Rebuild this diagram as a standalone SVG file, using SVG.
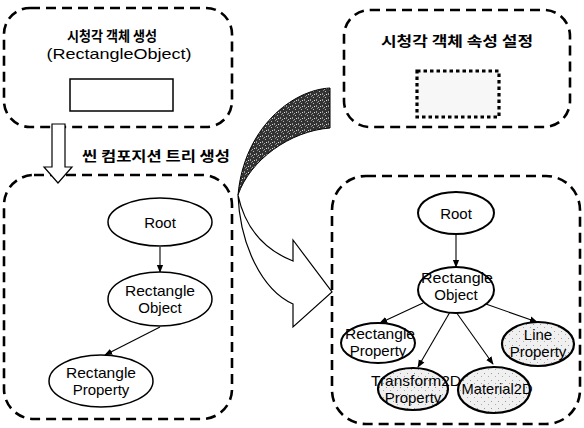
<svg xmlns="http://www.w3.org/2000/svg" width="584" height="428" viewBox="0 0 584 428">
<defs>
<style>
.box{fill:none;stroke:#000;stroke-width:2.6;stroke-dasharray:10 6}
.ko{font-family:"Noto Sans CJK KR","Noto Sans",sans-serif;font-weight:bold;font-size:14px;fill:#000}
.lbl{font-family:"Liberation Sans",Arial,sans-serif;font-size:15px;fill:#000;text-anchor:middle}
.nd{fill:#fff;stroke:#000;stroke-width:1.5}
.nd2{fill:#fff;stroke:#000;stroke-width:2}
.sp{fill:url(#speck);stroke:#000;stroke-width:2.2}
.edge{stroke:#000;stroke-width:1.1;fill:none;marker-end:url(#ah)}
</style>
<marker id="ah" viewBox="0 0 10 10" refX="9" refY="5" markerWidth="8" markerHeight="8" markerUnits="userSpaceOnUse" orient="auto">
<path d="M0,1 L10,5 L0,9 Z" fill="#000"/>
</marker>
<pattern id="speck" width="7" height="7" patternUnits="userSpaceOnUse">
<rect width="7" height="7" fill="#f0f0f0"/>
<rect x="1" y="2" width="1" height="1" fill="#999"/>
<rect x="5" y="5" width="1" height="1" fill="#aaa"/>
</pattern>
<pattern id="dark" width="6" height="6" patternUnits="userSpaceOnUse">
<rect width="6" height="6" fill="#333"/>
<rect x="1" y="1" width="1" height="1" fill="#bbb"/>
<rect x="4" y="3" width="1" height="2" fill="#999"/>
<rect x="2" y="4" width="1" height="1" fill="#ddd"/>
<rect x="5" y="0" width="1" height="1" fill="#888"/>
<rect x="0" y="5" width="1" height="1" fill="#aaa"/>
</pattern>
</defs>
<rect width="584" height="428" fill="#fff"/>

<g id="box-create">
<rect class="box" x="4" y="8" width="228" height="119" rx="26"/>
<text class="ko" x="112" y="41" text-anchor="middle" textLength="90" lengthAdjust="spacingAndGlyphs">시청각 객체 생성</text>
<text x="119" y="59" font-family="'Liberation Sans',Arial,sans-serif" font-size="15" text-anchor="middle" textLength="145" lengthAdjust="spacingAndGlyphs">(RectangleObject)</text>
<rect x="70" y="79" width="103" height="32" fill="#fff" stroke="#000" stroke-width="1.5"/>
</g>

<g id="box-attr">
<rect class="box" x="344" y="10" width="226" height="117" rx="26"/>
<text class="ko" x="457" y="46" text-anchor="middle" textLength="152" lengthAdjust="spacingAndGlyphs">시청각 객체 속성 설정</text>
<rect x="417" y="71" width="82" height="46" fill="#f7f7f7" stroke="#000" stroke-width="3.2" stroke-dasharray="3.5 3"/>
</g>

<g id="box-tree-left">
<rect class="box" x="4" y="175" width="228" height="244" rx="30"/>
</g>

<g id="box-tree-right">
<rect class="box" x="332" y="176" width="248" height="248" rx="34"/>
</g>

<g id="arrow-down">
<polygon points="52,124 65,124 65,167 72,167 58,183 44,167 52,167" fill="#fff" stroke="#000" stroke-width="1.2"/>
<text class="ko" x="82" y="161" font-size="15" textLength="148" lengthAdjust="spacingAndGlyphs">씬 컴포지션 트리 생성</text>
</g>

<g id="arrow-curved">
<path d="M330,88 C292,90 244,128 238,195 C250,160 290,131 330,128 Z" fill="url(#dark)" stroke="#000" stroke-width="1"/>
<path d="M238,195 C240,245 262,290 293,304 L293,327 L332,292 L293,240 L293,261 C265,250 245,228 238,195 Z" fill="#fff" stroke="#000" stroke-width="1.2"/>
</g>

<g id="connectors">
<line class="edge" x1="160" y1="247" x2="160" y2="272"/>
<line class="edge" x1="160" y1="327" x2="105" y2="355"/>
<line class="edge" x1="456" y1="235" x2="456" y2="267"/>
<line class="edge" x1="423" y1="303" x2="380" y2="323"/>
<line class="edge" x1="450" y1="312" x2="418" y2="367"/>
<line class="edge" x1="456" y1="312" x2="493" y2="364"/>
<line class="edge" x1="483" y1="303" x2="537" y2="322"/>
</g>

<g id="node-root-left">
<ellipse class="nd" cx="160" cy="222" rx="52" ry="24"/>
<text class="lbl" x="160" y="228" font-size="16">Root</text>
</g>
<g id="node-rectobj-left">
<ellipse class="nd" cx="160" cy="299" rx="52" ry="27"/>
<text class="lbl" x="160" y="296" textLength="70" lengthAdjust="spacingAndGlyphs">Rectangle</text>
<text class="lbl" x="160" y="313">Object</text>
</g>
<g id="node-rectprop-left">
<ellipse class="nd" cx="101" cy="381" rx="52" ry="26"/>
<text class="lbl" x="101" y="378" textLength="70" lengthAdjust="spacingAndGlyphs">Rectangle</text>
<text class="lbl" x="101" y="395">Property</text>
</g>

<g id="node-root-right">
<ellipse class="nd2" cx="456" cy="213" rx="38" ry="21"/>
<text class="lbl" x="456" y="219" font-size="16">Root</text>
</g>
<g id="node-rectobj-right">
<ellipse class="nd2" cx="456" cy="290" rx="38" ry="23"/>
<text class="lbl" x="457" y="283" textLength="72" lengthAdjust="spacingAndGlyphs">Rectangle</text>
<text class="lbl" x="456" y="300">Object</text>
</g>
<g id="node-rectprop-right">
<ellipse class="nd2" cx="378" cy="343" rx="37" ry="20"/>
<text class="lbl" x="380" y="339" textLength="70" lengthAdjust="spacingAndGlyphs">Rectangle</text>
<text class="lbl" x="378" y="356">Property</text>
</g>
<g id="node-lineprop">
<ellipse class="sp" cx="538" cy="344" rx="36" ry="22"/>
<text class="lbl" x="538" y="340">Line</text>
<text class="lbl" x="538" y="357">Property</text>
</g>
<g id="node-transform">
<ellipse class="sp" cx="413" cy="389" rx="35" ry="21"/>
<text class="lbl" x="416" y="386" textLength="90" lengthAdjust="spacingAndGlyphs">Transform2D</text>
<text class="lbl" x="413" y="403">Property</text>
</g>
<g id="node-material">
<ellipse class="sp" cx="494" cy="390" rx="36" ry="23"/>
<text class="lbl" x="497" y="394" textLength="71" lengthAdjust="spacingAndGlyphs">Material2D</text>
</g>
</svg>
